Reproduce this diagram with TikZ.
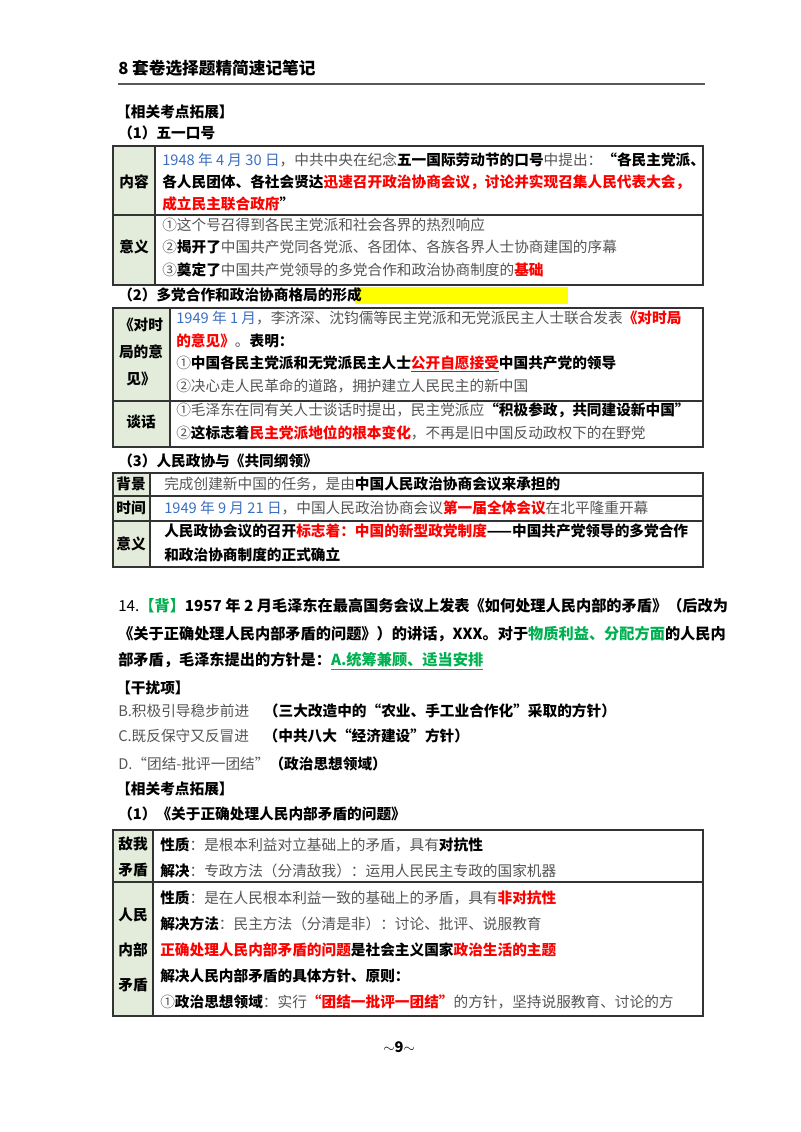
\documentclass[tikz,border=0pt]{standalone}
\usepackage{fontspec}
\setmainfont{Noto Sans CJK SC}
\usepackage{xcolor}
\definecolor{tx}{HTML}{555555}
\definecolor{rd}{HTML}{FF0000}
\definecolor{bl}{HTML}{3D6FC0}
\definecolor{gn}{HTML}{00B050}
\definecolor{cellg}{HTML}{E3ECDA}
\definecolor{hl}{HTML}{FFFF00}
\newcommand{\Bk}[1]{{\bfseries\color{black}#1}}
\newcommand{\Rd}[1]{{\bfseries\color{rd}#1}}
\newcommand{\Bl}[1]{{\color{bl}#1}}
\newcommand{\Gn}[1]{{\bfseries\color{gn}#1}}
\begin{document}
\begin{tikzpicture}[x=0.75pt,y=-0.75pt,
  ln/.style={anchor=west,inner sep=0pt,font=\fontsize{11}{12}\selectfont,text=tx},
  qn/.style={anchor=west,inner sep=0pt,font=\fontsize{11.4}{12}\selectfont,text=black},
  hd/.style={anchor=west,inner sep=0pt,font=\fontsize{11}{12}\selectfont\bfseries,text=black},
  lab/.style={inner sep=0pt,font=\fontsize{11}{20}\selectfont\bfseries,align=center,text=black},
  tb/.style={draw=black!80,line width=0.8pt}]
\useasboundingbox (0,0) rectangle (800,1132);
\fill[white] (0,0) rectangle (800,1132);
% header
\node[hd,font=\fontsize{12.5}{14}\selectfont\bfseries] (title) at (118,68) {8 套卷选择题精简速记笔记};
\draw[line width=1.5pt,black!65] (118,84) -- (705,84);
\node[hd] (h1) at (116,112) {【相关考点拓展】};
\node[hd] (h2) at (118,133) {（1）五一口号};
% table 1
\fill[cellg] (113,146) rectangle (155,285);
\draw[tb] (113,146) rectangle (703,285);
\draw[tb] (155,146) -- (155,285);
\draw[tb] (113,215) -- (703,215);
\node[lab] (t1a) at (134,182) {内容};
\node[lab] (t1b) at (134,247) {意义};
\node[ln] (l1) at (162,160) {\Bl{1948 年 4 月 30 日}，中共中央在纪念\Bk{五一国际劳动节的口号}中提出：\Bk{“各民主党派、}};
\node[ln] (l2) at (162,182) {\Bk{各人民团体、各社会贤达}\Rd{迅速召开政治协商会议，讨论并实现召集人民代表大会，}};
\node[ln] (l3) at (162,204) {\Rd{成立民主联合政府}\Bk{”}};
\node[ln] (l4) at (162,225) {①这个号召得到各民主党派和社会各界的热烈响应};
\node[ln] (l5) at (162,247) {②\Bk{揭开了}中国共产党同各党派、各团体、各族各界人士协商建国的序幕};
\node[ln] (l6) at (162,270) {③\Bk{奠定了}中国共产党领导的多党合作和政治协商制度的\Rd{基础}};
% heading 2
\fill[hl] (355,287) rectangle (568,304);
\node[hd] (h3) at (118,295) {（2）多党合作和政治协商格局的形成};
% table 2
\fill[cellg] (113,308) rectangle (170,447);
\draw[tb] (113,308) rectangle (703,447);
\draw[tb] (170,308) -- (170,447);
\draw[tb] (113,401) -- (703,401);
\node[lab] (t2a) at (141,352) {《对时\\局的意\\见》};
\node[lab] (t2b) at (141,422) {谈话};
\node[ln] (m1) at (176,318) {\Bl{1949 年 1 月}，李济深、沈钧儒等民主党派和无党派民主人士联合发表\Rd{《对时局}};
\node[ln] (m2) at (176,341) {\Rd{的意见》}。\Bk{表明：}};
\node[ln] (m3) at (176,364) {①\Bk{中国各民主党派和无党派民主人士}\Rd{\underline{公开自愿接受}}\Bk{中国共产党的领导}};
\node[ln] (m4) at (176,386) {②决心走人民革命的道路，拥护建立人民民主的新中国};
\node[ln] (m5) at (176,410) {①毛泽东在同有关人士谈话时提出，民主党派应\Bk{“积极参政，共同建设新中国”}};
\node[ln] (m6) at (176,433) {②\Bk{这标志着}\Rd{民主党派地位的根本变化}，不再是旧中国反动政权下的在野党};
% heading 3
\node[hd] (h4) at (118,461) {（3）人民政协与《共同纲领》};
% table 3
\fill[cellg] (113,473) rectangle (150,567);
\draw[tb] (113,473) rectangle (703,567);
\draw[tb] (150,473) -- (150,567);
\draw[tb] (113,496) -- (703,496);
\draw[tb] (113,521) -- (703,521);
\node[lab] (t3a) at (131,484) {背景};
\node[lab] (t3b) at (131,508) {时间};
\node[lab] (t3c) at (131,544) {意义};
\node[ln] (n1) at (164,484) {完成创建新中国的任务，是由\Bk{中国人民政治协商会议来承担的}};
\node[ln] (n2) at (164,508) {\Bl{1949 年 9 月 21 日}，中国人民政治协商会议\Rd{第一届全体会议}在北平隆重开幕};
\node[ln] (n3) at (164,531) {\Bk{人民政协会议的召开}\Rd{标志着：中国的新型政党制度}\Bk{——中国共产党领导的多党合作}};
\node[ln] (n4) at (164,555) {\Bk{和政治协商制度的正式确立}};
% question 14
\node[qn] (q1) at (118,606) {14.\Gn{【背】}\Bk{1957 年 2 月毛泽东在最高国务会议上发表《如何处理人民内部的矛盾》（后改为}};
\node[qn] (q2) at (118,634) {\Bk{《关于正确处理人民内部矛盾的问题》）的讲话，XXX。对于}\Gn{物质利益、分配方面}\Bk{的人民内}};
\node[qn] (q3) at (118,661) {\Bk{部矛盾，毛泽东提出的方针是：}\Gn{\underline{A.统筹兼顾、适当安排}}};
\node[hd] (h5) at (116,688) {【干扰项】};
\node[ln] (o1) at (118,711) {B.积极引导稳步前进\quad\Bk{（三大改造中的“农业、手工业合作化”采取的方针）}};
\node[ln] (o2) at (118,736) {C.既反保守又反冒进\quad\Bk{（中共八大“经济建设”方针）}};
\node[ln] (o3) at (118,764) {D.“团结-批评一团结”\Bk{（政治思想领域）}};
\node[hd] (h6) at (116,789) {【相关考点拓展】};
\node[hd] (h7) at (118,814) {（1）《关于正确处理人民内部矛盾的问题》};
% table 4
\fill[cellg] (113,830) rectangle (153,1016);
\draw[tb] (113,830) rectangle (703,1016);
\draw[tb] (153,830) -- (153,1016);
\draw[tb] (113,882) -- (703,882);
\node[lab] (t4a) at (133,857) {敌我\\矛盾};
\node[lab,font=\fontsize{11}{26}\selectfont\bfseries] (t4b) at (133,950) {人民\\内部\\矛盾};
\node[ln] (p1) at (160,845) {\Bk{性质}：是根本利益对立基础上的矛盾，具有\Bk{对抗性}};
\node[ln] (p2) at (160,871) {\Bk{解决}：专政方法（分清敌我）：运用人民民主专政的国家机器};
\node[ln] (p3) at (160,898) {\Bk{性质}：是在人民根本利益一致的基础上的矛盾，具有\Rd{非对抗性}};
\node[ln] (p4) at (160,924) {\Bk{解决方法}：民主方法（分清是非）：讨论、批评、说服教育};
\node[ln] (p5) at (160,950) {\Rd{正确处理人民内部矛盾的问题}\Bk{是社会主义国家}\Rd{政治生活的主题}};
\node[ln] (p6) at (160,976) {\Bk{解决人民内部矛盾的具体方针、原则：}};
\node[ln] (p7) at (160,1002) {①\Bk{政治思想领域}：实行\Rd{“团结一批评一团结”}的方针，坚持说服教育、讨论的方};
\node[hd] (pg) at (383,1047) {$\sim$9$\sim$};
\end{tikzpicture}
\end{document}
